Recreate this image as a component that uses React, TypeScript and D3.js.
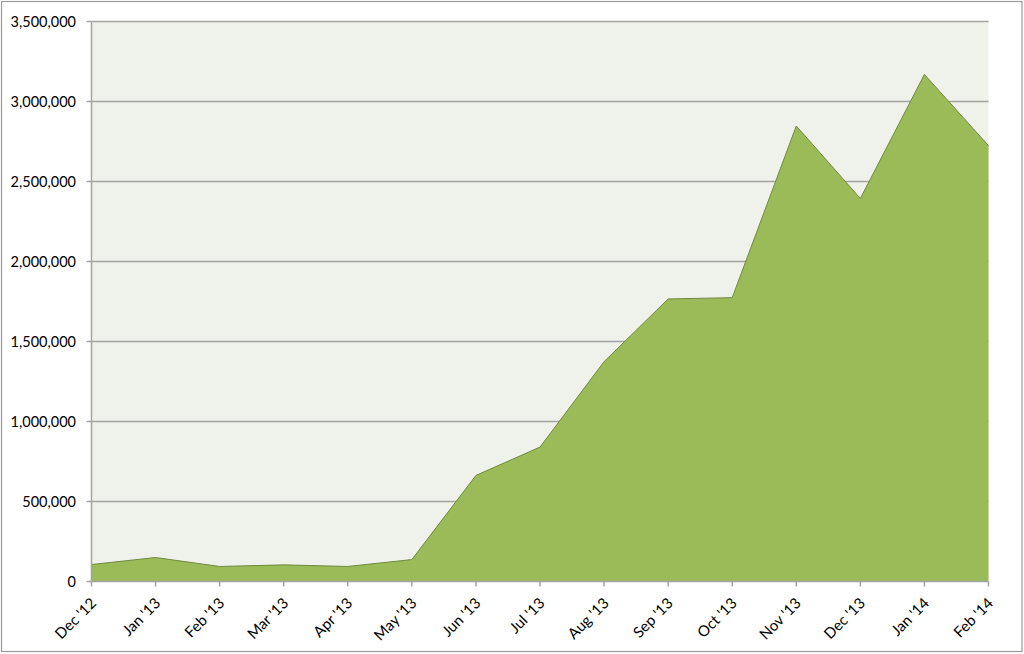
import React from "react";
import * as d3 from "d3";

const months = ["Dec '12", "Jan '13", "Feb '13", "Mar '13", "Apr '13", "May '13", "Jun '13", "Jul '13", "Aug '13", "Sep '13", "Oct '13", "Nov '13", "Dec '13", "Jan '14", "Feb '14"];
const values = [106000, 150000, 94000, 104000, 94000, 137000, 663000, 840000, 1374000, 1766000, 1774000, 2847000, 2394000, 3169000, 2724000];
const yTicks = [0, 500000, 1000000, 1500000, 2000000, 2500000, 3000000, 3500000];

const W = 1024, H = 654;
const left = 91.5, right = 988.5, top = 21.5, bottom = 581.5;

export default function App() {
  const x = d3.scalePoint<string>().domain(months).range([left, right]);
  const y = d3.scaleLinear().domain([0, 3500000]).range([bottom, top]);
  const area = d3.area<number>()
    .x((_, i) => x(months[i]) as number)
    .y0(y(0))
    .y1((d) => y(d));
  const line = d3.line<number>()
    .x((_, i) => x(months[i]) as number)
    .y((d) => y(d));
  const fmt = d3.format(",");
  const font = "Lato, 'Open Sans', sans-serif";
  return (
    <svg width={W} height={H} style={{ position: "absolute", left: 0, top: 0, background: "#fff" }}>
      <rect x={1.5} y={1.5} width={1020.5} height={650} fill="#fff" stroke="#9a9a9a" strokeWidth={1.2} />
      <rect x={left} y={top} width={right - left} height={bottom - top} fill="#eff2ea" />
      {yTicks.filter((t) => t > 0).map((t) => (
        <line key={t} x1={left} x2={right} y1={y(t)} y2={y(t)} stroke="#a3a3a3" strokeWidth={1.5} />
      ))}
      <path d={area(values) || ""} fill="#9bbb59" />
      <path d={line(values) || ""} fill="none" stroke="#71893f" strokeWidth={1} />
      <line x1={left} x2={left} y1={top} y2={bottom} stroke="#a3a3a3" strokeWidth={1.5} />
      <line x1={left} x2={right} y1={bottom} y2={bottom} stroke="#a3a3a3" strokeWidth={1.5} />
      {yTicks.map((t) => (
        <g key={t}>
          <line x1={left - 5} x2={left} y1={y(t)} y2={y(t)} stroke="#a3a3a3" strokeWidth={1.5} />
          <text x={76} y={y(t)} dy="0.35em" textAnchor="end" fontFamily={font} fontSize={14.5} fill="#000">
            {fmt(t)}
          </text>
        </g>
      ))}
      {months.map((m) => {
        const px = x(m) as number;
        return (
          <g key={m}>
            <line x1={px} x2={px} y1={bottom} y2={bottom + 5} stroke="#a3a3a3" strokeWidth={1.5} />
            <text
              transform={`translate(${px + 2},${bottom + 19}) rotate(-45)`}
              textAnchor="end"
              dy="0.35em"
              fontFamily={font}
              fontSize={15}
              fill="#000"
            >
              {m}
            </text>
          </g>
        );
      })}
    </svg>
  );
}
